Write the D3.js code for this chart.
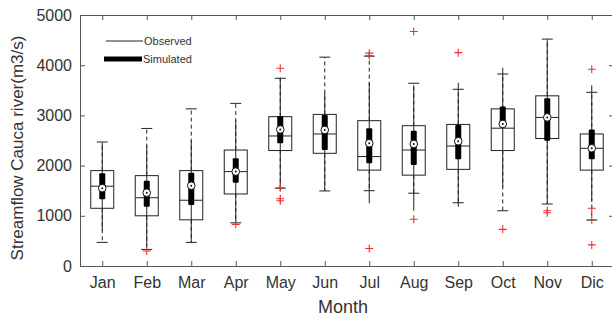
<!DOCTYPE html>
<html>
<head>
<meta charset="utf-8">
<script src="https://cdn.jsdelivr.net/npm/d3@7"></script>
<style>
  body { margin: 0; background: #fff; }
  svg { display: block; font-family: 'Liberation Sans', Arial, sans-serif; }
</style>
</head>
<body>
<svg id="chart" width="612" height="319"></svg>
<script>
// Month categories
const months = ['Jan', 'Feb', 'Mar', 'Apr', 'May', 'Jun', 'Jul', 'Aug', 'Sep', 'Oct', 'Nov', 'Dic'];

// Observed boxplot stats (m3/s)
const obsLo  = [470, 330, 470, 860, 1550, 1495, 1500, 1450, 1260, 1100, 1235, 915];
const obsQ1  = [1150, 1000, 920, 1435, 2300, 2245, 1910, 1810, 1925, 2300, 2540, 1910];
const obsMed = [1590, 1360, 1310, 1880, 2590, 2630, 2180, 2310, 2390, 2745, 2960, 2345];
const obsQ3  = [1900, 1800, 1900, 2310, 2975, 3020, 2895, 2795, 2820, 3130, 3390, 2630];
const obsHi  = [2470, 2740, 3130, 3240, 3740, 4160, 4180, 3640, 3520, 3825, 4520, 3460];

// Simulated boxplot stats (compact style)
const simLo  = [700, 400, 480, 870, 1500, 1500, 1250, 1100, 1180, 1570, 1250, 1300];
const simQ1  = [1330, 1180, 1215, 1660, 2445, 2310, 2045, 2010, 2125, 2760, 2495, 2125];
const simMed = [1550, 1460, 1600, 1880, 2720, 2710, 2445, 2430, 2485, 2830, 2960, 2345];
const simQ3  = [1850, 1700, 1860, 2145, 2990, 3010, 2745, 2695, 2810, 3175, 3340, 2720];
const simHi  = [2450, 2400, 2500, 2900, 3750, 3450, 3650, 3600, 3650, 3950, 4500, 3600];

// Outliers per month
const outliers = [
  [], [300], [], [830], [3940, 1560, 1340, 1300], [],
  [4240, 4190, 350], [4670, 930], [4250], [730], [1100, 1060], [3920, 1150, 920, 420]
];

const yTicks = [0, 1000, 2000, 3000, 4000, 5000];

const svg = d3.select('#chart');
const mLeft = 80, mRight = 614, mTop = 15, mBottom = 266;
const ink = '#222';
const textCol = '#333';

const x = d3.scaleLinear().domain([0.5, 12.5]).range([mLeft, mRight]);
const y = d3.scaleLinear().domain([0, 5000]).range([mBottom, mTop]);

const data = months.map((m, i) => ({
  m, i: i + 1,
  oLo: obsLo[i], oQ1: obsQ1[i], oMed: obsMed[i], oQ3: obsQ3[i], oHi: obsHi[i],
  sLo: simLo[i], sQ1: simQ1[i], sMed: simMed[i], sQ3: simQ3[i], sHi: simHi[i],
  out: outliers[i]
}));

// axes (inward ticks on all four sides)
const axL = svg.append('g').attr('transform', `translate(${mLeft},0)`)
  .call(d3.axisLeft(y).tickValues(yTicks).tickSize(-5).tickPadding(8).tickFormat(d3.format('d')));
const axR = svg.append('g').attr('transform', `translate(${mRight},0)`)
  .call(d3.axisRight(y).tickValues(yTicks).tickSize(-5).tickFormat(''));
const axB = svg.append('g').attr('transform', `translate(0,${mBottom})`)
  .call(d3.axisBottom(x).tickValues(d3.range(1, 13)).tickSize(-5).tickPadding(11)
    .tickFormat(d => months[d - 1]));
const axT = svg.append('g').attr('transform', `translate(0,${mTop})`)
  .call(d3.axisTop(x).tickValues(d3.range(1, 13)).tickSize(-5).tickFormat(''));

[axL, axR, axB, axT].forEach(a => {
  a.selectAll('path.domain').attr('stroke', '#555');
  a.selectAll('line').attr('stroke', '#555');
  a.selectAll('text').attr('fill', textCol).attr('font-size', 16)
    .attr('font-family', "'Liberation Sans', Arial, sans-serif");
});

const boxW = 23;
const capW = 11;

const g = svg.append('g');
const grp = g.selectAll('g.month').data(data).enter().append('g').attr('class', 'month');

// observed whiskers (dashed)
grp.append('line')
  .attr('x1', d => x(d.i)).attr('x2', d => x(d.i))
  .attr('y1', d => y(d.oQ3)).attr('y2', d => y(d.oHi))
  .attr('stroke', ink).attr('stroke-width', 1).attr('stroke-dasharray', '4,3');
grp.append('line')
  .attr('x1', d => x(d.i)).attr('x2', d => x(d.i))
  .attr('y1', d => y(d.oQ1)).attr('y2', d => y(d.oLo))
  .attr('stroke', ink).attr('stroke-width', 1).attr('stroke-dasharray', '4,3');
// caps
['oHi', 'oLo'].forEach(k => {
  grp.append('line')
    .attr('x1', d => x(d.i) - capW / 2).attr('x2', d => x(d.i) + capW / 2)
    .attr('y1', d => y(d[k])).attr('y2', d => y(d[k]))
    .attr('stroke', ink).attr('stroke-width', 1);
});
// observed box
grp.append('rect')
  .attr('x', d => x(d.i) - boxW / 2).attr('width', boxW)
  .attr('y', d => y(d.oQ3)).attr('height', d => y(d.oQ1) - y(d.oQ3))
  .attr('fill', 'none').attr('stroke', ink).attr('stroke-width', 1);
grp.append('line')
  .attr('x1', d => x(d.i) - boxW / 2).attr('x2', d => x(d.i) + boxW / 2)
  .attr('y1', d => y(d.oMed)).attr('y2', d => y(d.oMed))
  .attr('stroke', ink).attr('stroke-width', 1);

// simulated whisker (solid thin)
grp.append('line')
  .attr('x1', d => x(d.i)).attr('x2', d => x(d.i))
  .attr('y1', d => y(d.sLo)).attr('y2', d => y(d.sHi))
  .attr('stroke', ink).attr('stroke-width', 1);
// simulated thick box
grp.append('rect')
  .attr('x', d => x(d.i) - 3).attr('width', 6)
  .attr('y', d => y(d.sQ3)).attr('height', d => y(d.sQ1) - y(d.sQ3))
  .attr('rx', 1)
  .attr('fill', '#000');
// median marker
grp.append('circle')
  .attr('cx', d => x(d.i)).attr('cy', d => y(d.sMed)).attr('r', 3.8)
  .attr('fill', '#fff').attr('stroke', '#111').attr('stroke-width', 1);
grp.append('circle')
  .attr('cx', d => x(d.i)).attr('cy', d => y(d.sMed)).attr('r', 1)
  .attr('fill', '#111');

// outliers as red +
const pts = data.flatMap(d => d.out.map(v => ({ i: d.i, v })));
g.selectAll('path.out').data(pts).enter().append('path')
  .attr('class', 'out')
  .attr('d', p => {
    const cx = x(p.i), cy = y(p.v), s = 4;
    return `M${cx - s},${cy}H${cx + s}M${cx},${cy - s}V${cy + s}`;
  })
  .attr('stroke', '#f03030').attr('stroke-width', 1.1).attr('fill', 'none');

// legend
const lg = svg.append('g');
lg.append('line').attr('x1', 106).attr('x2', 143).attr('y1', 41).attr('y2', 41)
  .attr('stroke', ink).attr('stroke-width', 1);
lg.append('line').attr('x1', 104).attr('x2', 142).attr('y1', 59).attr('y2', 59)
  .attr('stroke', '#000').attr('stroke-width', 5);
lg.append('text').attr('x', 144).attr('y', 45).attr('font-size', 11).attr('fill', textCol).text('Observed');
lg.append('text').attr('x', 143).attr('y', 63).attr('font-size', 11).attr('fill', textCol).text('Simulated');

// axis titles
svg.append('text')
  .attr('x', (mLeft + 612) / 2 - 3).attr('y', 313)
  .attr('text-anchor', 'middle').attr('font-size', 18).attr('fill', textCol)
  .text('Month');
svg.append('text')
  .attr('transform', 'rotate(-90)')
  .attr('x', -148).attr('y', 23)
  .attr('text-anchor', 'middle').attr('font-size', 17).attr('fill', textCol)
  .text('Streamflow Cauca river(m3/s)');
</script>
</body>
</html>
